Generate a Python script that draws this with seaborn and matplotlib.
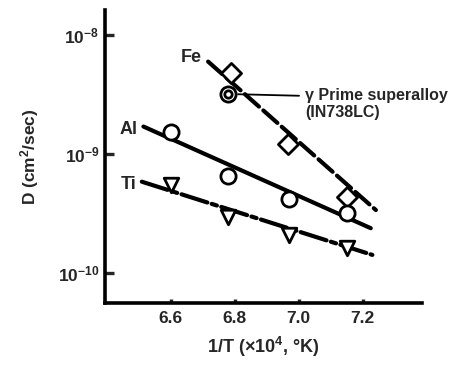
import numpy as np
import pandas as pd
import matplotlib
matplotlib.use("Agg")
import matplotlib.pyplot as plt
import seaborn as sns

# Estilo
sns.set_theme(style="white")
plt.rcParams['font.family'] = ['Liberation Sans', 'DejaVu Sans']
plt.rcParams['font.weight'] = 'bold'
plt.rcParams['mathtext.fontset'] = 'custom'
plt.rcParams['mathtext.rm'] = 'Liberation Sans:bold'
plt.rcParams['mathtext.it'] = 'Liberation Sans:bold'
plt.rcParams['mathtext.bf'] = 'Liberation Sans:bold'

# Dados (1/T x10^4, D em cm2/s)
fe_x = [6.79, 6.965, 7.15]
fe_y = [4.8e-9, 1.21e-9, 4.36e-10]
al_x = [6.6, 6.78, 6.97, 7.15]
al_y = [1.52e-9, 6.58e-10, 4.19e-10, 3.18e-10]
ti_x = [6.6, 6.78, 6.97, 7.15]
ti_y = [5.48e-10, 2.97e-10, 2.08e-10, 1.61e-10]
sup_x = [6.78]
sup_y = [3.19e-9]

# Retas ajustadas (extremos)
fe_fit_x = [6.717, 7.241]
fe_fit_y = [5.97e-9, 3.38e-10]
al_fit_x = [6.515, 7.225]
al_fit_y = [1.70e-9, 2.38e-10]
ti_fit_x = [6.51, 7.23]
ti_fit_y = [5.85e-10, 1.42e-10]

x_ticks = [6.6, 6.8, 7.0, 7.2]
x_tick_labels = ["6.6", "6.8", "7.0", "7.2"]
y_ticks = [1e-8, 1e-9, 1e-10]
y_tick_labels = [r"$10^{-8}$", r"$10^{-9}$", r"$10^{-10}$"]

fig = plt.figure(figsize=(4.63, 3.67), dpi=100)
ax = fig.add_axes([0.2268, 0.1744, 0.6846, 0.7984])
ax.set_yscale("log")

lw = 3.0
sns.lineplot(x=fe_fit_x, y=fe_fit_y, ax=ax, color="black", lw=lw)
ax.lines[-1].set_dashes([4.5, 1.4])
sns.lineplot(x=al_fit_x, y=al_fit_y, ax=ax, color="black", lw=lw)
sns.lineplot(x=ti_fit_x, y=ti_fit_y, ax=ax, color="black", lw=lw)
ax.lines[-1].set_dashes([6.5, 1.1, 1.3, 1.1])
for ln in ax.lines:
    ln.set_solid_capstyle("round")
    ln.set_dash_capstyle("round")

mk = dict(facecolor="white", edgecolor="black", linewidth=2.0, zorder=5, ax=ax, legend=False)
sns.scatterplot(x=fe_x, y=fe_y, marker="D", s=105, **mk)
sns.scatterplot(x=al_x, y=al_y, marker="o", s=120, **mk)
sns.scatterplot(x=ti_x, y=ti_y, marker="v", s=110, **mk)
sns.scatterplot(x=sup_x, y=sup_y, marker="o", s=120, **mk)
sns.scatterplot(x=sup_x, y=sup_y, marker="o", s=28, **mk)

ax.set_xlim(6.395, 7.385)
ax.set_ylim(5.6e-11, 1.62e-8)
ax.set_xticks(x_ticks)
ax.set_xticklabels(x_tick_labels)
ax.set_yticks(y_ticks)
ax.set_yticklabels(y_tick_labels)
ax.yaxis.set_minor_locator(matplotlib.ticker.NullLocator())
ax.tick_params(axis="y", direction="in", length=6.5, width=2.4, labelsize=12.5, pad=4, left=True)
ax.tick_params(axis="x", direction="in", length=3, width=2.4, labelsize=12.5, pad=6, bottom=True)
for lab in ax.get_xticklabels() + ax.get_yticklabels():
    lab.set_fontweight("bold")

for s in ["top", "right"]:
    ax.spines[s].set_visible(False)
for s in ["left", "bottom"]:
    ax.spines[s].set_linewidth(2.6)
    ax.spines[s].set_color("black")

ax.set_xlabel(r"1/T ($\times$10$^4$, °K)", fontsize=13, fontweight="bold", labelpad=6)
ax.set_ylabel(r"D (cm$^2$/sec)", fontsize=12.5, fontweight="bold", labelpad=12)

# Rótulos das séries
ax.text(6.665, 6.5e-9, "Fe", fontsize=13, fontweight="bold", ha="center", va="center")
ax.text(6.47, 1.62e-9, "Al", fontsize=13, fontweight="bold", ha="center", va="center")
ax.text(6.47, 5.5e-10, "Ti", fontsize=13, fontweight="bold", ha="center", va="center")

ax.annotate("γ Prime superalloy\n(IN738LC)", xy=(sup_x[0], sup_y[0]), xytext=(7.02, 2.62e-9),
            fontsize=11.5, fontweight="bold", ha="left", va="center", linespacing=1.15,
            arrowprops=dict(arrowstyle="-", lw=1.3, color="black", shrinkA=2, shrinkB=7,
                            relpos=(0, 0.76)))

plt.savefig("out.png", dpi=100)
